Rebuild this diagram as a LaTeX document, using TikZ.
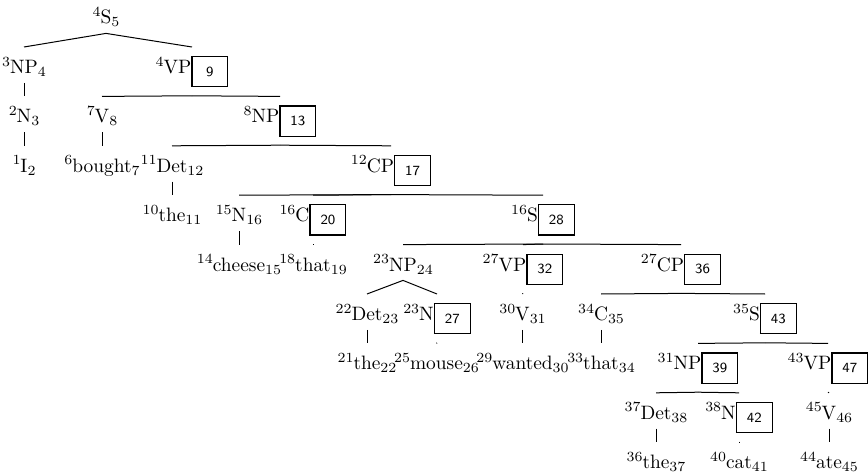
\documentclass[tikz,border=0pt]{standalone}
\usepackage{tikz}

% 添字つきラベルと番号の箱
\scriptspace=0pt
\newcommand{\wlab}[3]{$^{#1}$#2$_{#3}$}
\newcommand{\nbox}[1]{{\setlength{\fboxsep}{0pt}\setlength{\fboxrule}{0.6pt}%
  \raisebox{-1.65pt}{\fbox{\parbox[c][14.5pt][c]{17.3pt}{\centering\sffamily\fontsize{7}{8}\selectfont #1}}}}}
\newcommand{\blab}[3]{$^{#1}$#2\nbox{#3}}

\begin{document}
\begin{tikzpicture}[x=0.5pt, y=-0.5pt,
    wordnode/.style={anchor=base, inner sep=0pt, text height=13pt, text depth=4.5pt,
      font=\fontsize{9.7}{12}\selectfont},
    boxnode/.style={wordnode, text depth=11pt},
    edge/.style={line width=0.5pt}]
    \useasboundingbox (0,0) rectangle (868,476);

    % ノード
    \node[wordnode] (S1) at (106, 24) {\wlab{4}{S}{5}};

    \node[wordnode] (NP1) at (24, 73.4) {\wlab{3}{NP}{4}};
    \node[boxnode] (VP1) at (192, 73.4) {\blab{4}{VP}{9}};

    \node[wordnode] (N1) at (24, 122.8) {\wlab{2}{N}{3}};
    \node[wordnode] (V1) at (102, 122.8) {\wlab{7}{V}{8}};
    \node[boxnode] (NP2) at (280, 122.8) {\blab{8}{NP}{13}};

    \node[wordnode] (I) at (24, 172.2) {\wlab{1}{I}{2}};
    \node[wordnode] (bought) at (102, 172.2) {\wlab{6}{bought}{7}};
    \node[wordnode] (Det1) at (172, 172.2) {\wlab{11}{Det}{12}};
    \node[boxnode] (CP1) at (391, 172.2) {\blab{12}{CP}{17}};

    \node[wordnode] (the1) at (172, 221.6) {\wlab{10}{the}{11}};
    \node[wordnode] (N2) at (239, 221.6) {\wlab{15}{N}{16}};
    \node[boxnode] (C1) at (313, 221.6) {\blab{16}{C}{20}};
    \node[boxnode] (S2) at (543, 221.6) {\blab{16}{S}{28}};

    \node[wordnode] (cheese) at (239, 271) {\wlab{14}{cheese}{15}};
    \node[wordnode] (that1) at (313, 271) {\wlab{18}{that}{19}};
    \node[wordnode] (NP3) at (403, 271) {\wlab{23}{NP}{24}};
    \node[boxnode] (VP2) at (523, 271) {\blab{27}{VP}{32}};
    \node[boxnode] (CP2) at (681, 271) {\blab{27}{CP}{36}};

    \node[wordnode] (Det2) at (367, 320.4) {\wlab{22}{Det}{23}};
    \node[boxnode] (N3) at (437, 320.4) {\blab{23}{N}{27}};
    \node[wordnode] (V2) at (522.5, 320.4) {\wlab{30}{V}{31}};
    \node[wordnode] (C2) at (601, 320.4) {\wlab{34}{C}{35}};
    \node[boxnode] (S3) at (765, 320.4) {\blab{35}{S}{43}};

    \node[wordnode] (the2) at (367, 369.8) {\wlab{21}{the}{22}};
    \node[wordnode] (mouse) at (436.5, 369.8) {\wlab{25}{mouse}{26}};
    \node[wordnode] (wanted) at (522.5, 369.8) {\wlab{29}{wanted}{30}};
    \node[wordnode] (that2) at (601, 369.8) {\wlab{33}{that}{34}};
    \node[boxnode] (NP4) at (698, 369.8) {\blab{31}{NP}{39}};
    \node[boxnode] (VP3) at (828, 369.8) {\blab{43}{VP}{47}};

    \node[wordnode] (Det3) at (656, 419.2) {\wlab{37}{Det}{38}};
    \node[boxnode] (N4) at (739, 419.2) {\blab{38}{N}{42}};
    \node[wordnode] (V3) at (829, 419.2) {\wlab{45}{V}{46}};

    \node[wordnode] (the3) at (656, 468.6) {\wlab{36}{the}{37}};
    \node[wordnode] (cat) at (739, 468.6) {\wlab{40}{cat}{41}};
    \node[wordnode] (ate) at (829, 468.6) {\wlab{44}{ate}{45}};

    % エッジ
    \draw[edge] (S1.south) -- (NP1.north);
    \draw[edge] (S1.south) -- (VP1.north);
    \draw[edge] (NP1.south) -- (N1.north);
    \draw[edge] (N1.south) -- (I.north);
    \draw[edge] (VP1.south) -- (V1.north);
    \draw[edge] (VP1.south) -- (NP2.north);
    \draw[edge] (V1.south) -- (bought.north);
    \draw[edge] (NP2.south) -- (Det1.north);
    \draw[edge] (NP2.south) -- (CP1.north);
    \draw[edge] (Det1.south) -- (the1.north);
    \draw[edge] (CP1.south) -- (N2.north);
    \draw[edge] (CP1.south) -- (C1.north);
    \draw[edge] (CP1.south) -- (S2.north);
    \draw[edge] (N2.south) -- (cheese.north);
    \draw[edge] (C1.south) -- (that1.north);
    \draw[edge] (S2.south) -- (NP3.north);
    \draw[edge] (S2.south) -- (VP2.north);
    \draw[edge] (S2.south) -- (CP2.north);
    \draw[edge] (NP3.south) -- (Det2.north);
    \draw[edge] (NP3.south) -- (N3.north);
    \draw[edge] (VP2.south) -- (V2.north);
    \draw[edge] (CP2.south) -- (C2.north);
    \draw[edge] (CP2.south) -- (S3.north);
    \draw[edge] (Det2.south) -- (the2.north);
    \draw[edge] (N3.south) -- (mouse.north);
    \draw[edge] (V2.south) -- (wanted.north);
    \draw[edge] (C2.south) -- (that2.north);
    \draw[edge] (S3.south) -- (NP4.north);
    \draw[edge] (S3.south) -- (VP3.north);
    \draw[edge] (NP4.south) -- (Det3.north);
    \draw[edge] (NP4.south) -- (N4.north);
    \draw[edge] (VP3.south) -- (V3.north);
    \draw[edge] (Det3.south) -- (the3.north);
    \draw[edge] (N4.south) -- (cat.north);
    \draw[edge] (V3.south) -- (ate.north);
  \end{tikzpicture}
\end{document}
